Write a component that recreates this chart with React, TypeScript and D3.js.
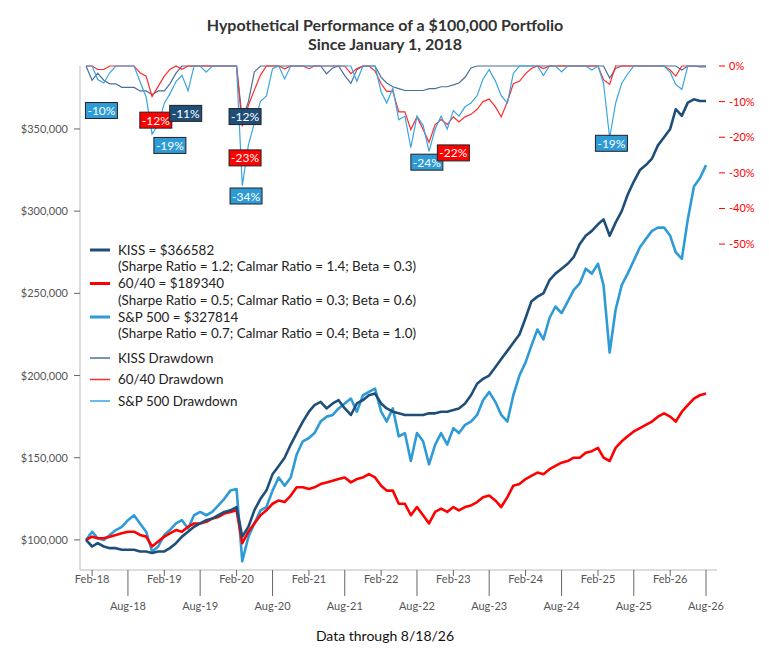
import * as d3 from 'd3';

// monthly values (start of month), Jan 2018 .. Aug 2026, in $ thousands
const kiss = [
  100, 96, 98, 96, 95, 95, 94, 94, 94, 93, 93, 92,
  93, 93, 95, 98, 102, 105, 108, 110, 112, 113, 115, 117,
  118, 120, 102, 108, 118, 125, 130, 140, 145, 150, 158, 165,
  172, 178, 182, 184, 180, 183, 185, 180, 176, 183, 185, 188,
  189, 183, 180, 178, 177, 176, 176, 176, 176, 177, 177, 178,
  178, 179, 180, 183, 188, 195, 198, 200, 205, 210, 215, 220,
  225, 235, 245, 248, 250, 258, 262, 265, 268, 272, 280, 285,
  288, 292, 295, 285, 293, 300, 310, 318, 325, 328, 332, 340,
  345, 350, 362, 358, 366, 368, 367, 367,
];
const sixtyForty = [
  100, 102, 101, 101, 102, 103, 104, 105, 105, 103, 102, 96,
  99, 102, 104, 106, 105, 108, 110, 110, 111, 113, 114, 116,
  117, 118, 98, 105, 110, 115, 118, 122, 124, 123, 127, 132,
  132, 131, 132, 134, 135, 136, 137, 138, 135, 137, 138, 140,
  138, 133, 130, 130, 122, 122, 115, 120, 115, 110, 117, 119,
  117, 120, 118, 120, 121, 123, 126, 127, 124, 120, 126, 133,
  134, 137, 139, 141, 140, 143, 145, 147, 148, 150, 150, 153,
  154, 156, 150, 148, 156, 160, 163, 166, 168, 170, 172, 175,
  177, 175, 172, 178, 182, 186, 188, 189,
];
const sp500 = [
  100, 105, 101, 100, 103, 106, 108, 112, 115, 110, 105, 93,
  96, 103, 106, 110, 112, 107, 115, 117, 115, 117, 121, 125,
  130, 131, 87, 102, 110, 118, 120, 130, 138, 133, 138, 152,
  160, 162, 165, 172, 175, 176, 180, 183, 186, 178, 188, 190,
  192, 178, 172, 180, 163, 165, 148, 165, 160, 146, 158, 165,
  158, 168, 165, 170, 172, 176, 185, 190, 184, 176, 172, 188,
  200, 208, 218, 228, 222, 235, 242, 238, 245, 252, 256, 265,
  262, 268, 255, 214, 240, 255, 262, 270, 278, 283, 288, 290,
  290, 285, 275, 271, 295, 315, 320, 328,
];

const yTicks = [100000, 150000, 200000, 250000, 300000, 350000];
const ddTicks = [0, -10, -20, -30, -40, -50];

const ddLabels = [
  { date: '2018-03-20', text: '-10%', color: '#2e9bd6', pct: -12.5 },
  { date: '2018-12-20', text: '-12%', color: '#ff0000', pct: -15.2 },
  { date: '2019-05-20', text: '-11%', color: '#1f4e79', pct: -13.3 },
  { date: '2019-03-01', text: '-19%', color: '#2e9bd6', pct: -22.3 },
  { date: '2020-03-15', text: '-12%', color: '#1f4e79', pct: -14.2 },
  { date: '2020-03-15', text: '-23%', color: '#ff0000', pct: -25.8 },
  { date: '2020-03-20', text: '-34%', color: '#2e9bd6', pct: -36.5 },
  { date: '2022-09-20', text: '-24%', color: '#2e9bd6', pct: -27 },
  { date: '2023-02-01', text: '-22%', color: '#ff0000', pct: -24.4 },
  { date: '2025-04-10', text: '-19%', color: '#2e9bd6', pct: -21.7 },
];

const months = kiss.map((_, i) => new Date(2018, i, 1));
const drawdown = (s: number[]) => {
  let peak = -Infinity;
  return s.map((v) => {
    peak = Math.max(peak, v);
    return (v / peak - 1) * 100;
  });
};

const series = [
  { name: 'KISS', vals: kiss, color: '#1f4e79', dd: '#4a6f9a', sharpe: 1.2, calmar: 1.4, beta: 0.3, final: 366582 },
  { name: '60/40', vals: sixtyForty, color: '#ff0000', dd: '#ff2a2a', sharpe: 0.5, calmar: 0.3, beta: 0.6, final: 189340 },
  { name: 'S&P 500', vals: sp500, color: '#2e9bd6', dd: '#3aa5e0', sharpe: 0.7, calmar: 0.4, beta: 1.0, final: 327814 },
];

export default function App() {
  const W = 769, H = 650;
  const left = 80, right = 717, top = 66, bottom = 570;
  const x = d3.scaleTime().domain([new Date(2018, 0, 1), new Date(2026, 7, 1)]).range([86, 706]);
  const y = d3.scaleLinear().domain([81700, 388300]).range([bottom, top]);
  const yd = d3.scaleLinear().domain([-141.5, 0]).range([bottom, top]);
  const line = d3.line<number>().x((_, i) => x(months[i])).y((v) => y(v * 1000));
  const ddLine = d3.line<number>().x((_, i) => x(months[i])).y((v) => yd(v));
  const xTicks = d3.range(0, 18).map((i) => new Date(2018, 1 + i * 6, 1));
  const fmt = d3.timeFormat('%b-%y');
  const font = 'Lato, "Open Sans", sans-serif';

  return (
    <svg width={W} height={H} style={{ position: 'absolute', left: 0, top: 0, fontFamily: font }}>
      <rect width={W} height={H} fill="#fff" />
      <text x={385} y={31} textAnchor="middle" fontSize={16} fontWeight="bold" fill="#333">
        Hypothetical Performance of a $100,000 Portfolio
      </text>
      <text x={385} y={50} textAnchor="middle" fontSize={16} fontWeight="bold" fill="#333">
        Since January 1, 2018
      </text>

      {/* axes */}
      <line x1={left} x2={left} y1={top} y2={bottom} stroke="#bbb" />
      <line x1={left} x2={right} y1={bottom} y2={bottom} stroke="#bbb" />
      {yTicks.map((t) => (
        <g key={t}>
          <line x1={left - 6} x2={left} y1={y(t)} y2={y(t)} stroke="#666" />
          <text x={left - 12} y={y(t) + 4} textAnchor="end" fontSize={11} fill="#555">
            {d3.format('$,')(t)}
          </text>
        </g>
      ))}
      {ddTicks.map((t) => (
        <g key={t}>
          <line x1={right + 2} x2={right + 8} y1={yd(t)} y2={yd(t)} stroke="#ff0000" />
          <text x={right + 12} y={yd(t) + 4} fontSize={11} fill="#ff0000">
            {t}%
          </text>
        </g>
      ))}
      {xTicks.map((t, i) => {
        const aug = i % 2 === 1;
        return (
          <g key={i}>
            <line x1={x(t)} x2={x(t)} y1={bottom} y2={bottom + (aug ? 26 : 6)} stroke="#666" />
            <text x={x(t)} y={aug ? 610 : 583} textAnchor="middle" fontSize={11} fill="#555">
              {fmt(t)}
            </text>
          </g>
        );
      })}

      {/* drawdowns */}
      {series.map((s) => (
        <path key={s.name + 'dd'} d={ddLine(drawdown(s.vals)) ?? ''} fill="none" stroke={s.dd} strokeWidth={1.2} />
      ))}
      {/* values */}
      {[series[2], series[1], series[0]].map((s) => (
        <path key={s.name} d={line(s.vals) ?? ''} fill="none" stroke={s.color} strokeWidth={2.6} strokeLinejoin="round" />
      ))}

      {ddLabels.map((l, i) => {
        const cx = x(new Date(l.date));
        const cy = yd(l.pct);
        return (
          <g key={i}>
            <rect x={cx - 16} y={cy - 8} width={32} height={16} fill={l.color} stroke="#222" strokeWidth={1} />
            <text x={cx} y={cy + 4.5} textAnchor="middle" fontSize={12} fill="#fff">
              {l.text}
            </text>
          </g>
        );
      })}

      {/* legend */}
      {series.map((s, i) => (
        <g key={s.name + 'leg'} transform={`translate(90, ${250 + i * 33.5})`}>
          <line x1={0} x2={20} y1={0} y2={0} stroke={s.color} strokeWidth={3} />
          <text x={28} y={4.5} fontSize={13.4} fill="#222">
            {s.name} = ${s.final}
          </text>
          <text x={28} y={21} fontSize={13.4} fill="#222">
            (Sharpe Ratio = {s.sharpe.toFixed(1)}; Calmar Ratio = {s.calmar.toFixed(1)}; Beta = {s.beta.toFixed(1)})
          </text>
        </g>
      ))}
      {series.map((s, i) => (
        <g key={s.name + 'legdd'} transform={`translate(90, ${358 + i * 21.5})`}>
          <line x1={0} x2={20} y1={0} y2={0} stroke={s.dd} strokeWidth={1.5} />
          <text x={28} y={4.5} fontSize={13.4} fill="#222">
            {s.name} Drawdown
          </text>
        </g>
      ))}

      <text x={385} y={641} textAnchor="middle" fontSize={14} fill="#111">
        Data through 8/18/26
      </text>
    </svg>
  );
}
